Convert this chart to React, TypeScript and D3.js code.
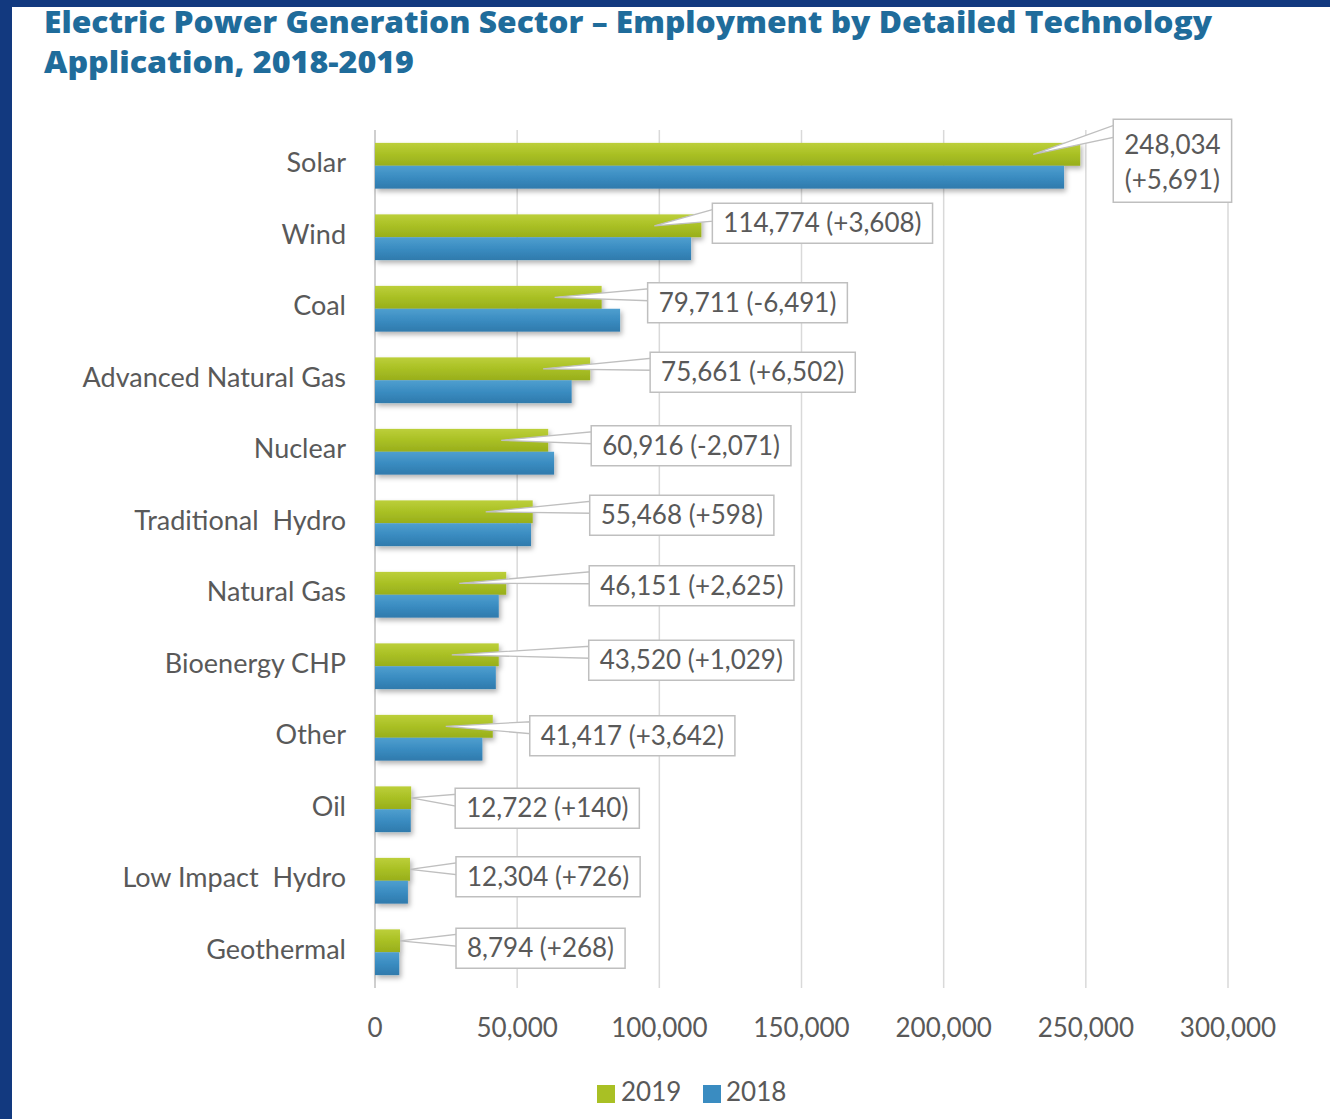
import React from "react";
import * as d3 from "d3";

const categories = [
  "Solar",
  "Wind",
  "Coal",
  "Advanced Natural Gas",
  "Nuclear",
  "Traditional  Hydro",
  "Natural Gas",
  "Bioenergy CHP",
  "Other",
  "Oil",
  "Low Impact  Hydro",
  "Geothermal",
];
const values2019 = [248034, 114774, 79711, 75661, 60916, 55468, 46151, 43520, 41417, 12722, 12304, 8794];
const changes = [5691, 3608, -6491, 6502, -2071, 598, 2625, 1029, 3642, 140, 726, 268];
const values2018 = values2019.map((v, i) => v - changes[i]);
const xTicks = [0, 50000, 100000, 150000, 200000, 250000, 300000];
const seriesNames = ["2019", "2018"];

// label layout tweaks (pixels): gap from 2019 bar end to callout box, and vertical shift
const labelGap = [33, 11, 46, 60, 43, 57, 83, 90, 37, 44, 46, 56];
const labelShift = [-5, -14, -6, -8, -6, -8, -9, -6, -2, -1, -4, -4];

const W = 1330;
const H = 1119;
const FONT = "Lato, 'Open Sans', sans-serif";
const GRAY = "#595959";

const fmt = d3.format(",");
const fmtChange = (c: number) => (c >= 0 ? "+" : "-") + fmt(Math.abs(c));

let ctx: CanvasRenderingContext2D | null = null;
function measure(text: string, font: string) {
  if (typeof document !== "undefined") {
    if (!ctx) ctx = document.createElement("canvas").getContext("2d");
    if (ctx) {
      ctx.font = font;
      return ctx.measureText(text).width;
    }
  }
  return text.length * 14;
}

export default function App() {
  const x = d3.scaleLinear().domain([0, 300000]).range([375, 1228]);
  const y = d3
    .scaleBand<string>()
    .domain(categories)
    .range([130, 988])
    .paddingInner(0.36)
    .paddingOuter(0.18);
  const y1 = d3.scaleBand<string>().domain(seriesNames).range([0, y.bandwidth()]);
  const bh = y1.bandwidth();
  const labelFont = `26px Lato`;

  return (
    <svg width={W} height={H} style={{ position: "absolute", left: 0, top: 0, background: "#fff" }}>
      <defs>
        <linearGradient id="gGreen" x1="0" y1="0" x2="0" y2="1">
          <stop offset="0" stopColor="#bccf3a" />
          <stop offset="0.5" stopColor="#a9c024" />
          <stop offset="1" stopColor="#98ae1c" />
        </linearGradient>
        <linearGradient id="gBlue" x1="0" y1="0" x2="0" y2="1">
          <stop offset="0" stopColor="#4f9fcf" />
          <stop offset="0.5" stopColor="#3a8cc1" />
          <stop offset="1" stopColor="#2f7aac" />
        </linearGradient>
        <filter id="shadow" x="-5%" y="-30%" width="115%" height="180%">
          <feDropShadow dx="2" dy="3" stdDeviation="2.5" floodColor="#000" floodOpacity="0.3" />
        </filter>
      </defs>
      <rect x={0} y={0} width={W} height={H} fill="#fff" />
      {/* frame */}
      <rect x={0} y={0} width={W} height={7} fill="#12397f" />
      <rect x={0} y={0} width={12} height={H} fill="#12397f" />

      {/* title */}
      <text x={44} y={33} fontFamily="'Open Sans', sans-serif" fontWeight={800} fontSize={30} fill="#1f6c9b"
        textLength={1168} lengthAdjust="spacingAndGlyphs">
        Electric Power Generation Sector – Employment by Detailed Technology
      </text>
      <text x={44} y={73} fontFamily="'Open Sans', sans-serif" fontWeight={800} fontSize={30} fill="#1f6c9b"
        textLength={370} lengthAdjust="spacingAndGlyphs">
        Application, 2018-2019
      </text>

      {/* grid */}
      {xTicks.map((t) => (
        <line key={t} x1={x(t)} x2={x(t)} y1={130} y2={988} stroke={t === 0 ? "#bfbfbf" : "#d9d9d9"} strokeWidth={1.5} />
      ))}
      {xTicks.map((t) => (
        <text key={"t" + t} x={x(t)} y={1037} textAnchor="middle" fontFamily={FONT} fontSize={26} fill={GRAY}>
          {fmt(t)}
        </text>
      ))}

      {/* category labels */}
      {categories.map((c) => (
        <text key={c} x={346} y={(y(c) as number) + y.bandwidth() / 2 + 4} dy="0.1em" textAnchor="end"
          fontFamily={FONT} fontSize={27} fill={GRAY} style={{ whiteSpace: "pre" }}>
          {c}
        </text>
      ))}

      {/* bars */}
      <g filter="url(#shadow)">
        {categories.map((c, i) => (
          <g key={c}>
            <rect x={x(0)} y={(y(c) as number) + (y1("2019") as number)} width={x(values2019[i]) - x(0)} height={bh} fill="url(#gGreen)" />
            <rect x={x(0)} y={(y(c) as number) + (y1("2018") as number)} width={x(values2018[i]) - x(0)} height={bh} fill="url(#gBlue)" />
          </g>
        ))}
      </g>

      {/* callouts */}
      {categories.map((c, i) => {
        const end = x(values2019[i]);
        const gy = (y(c) as number) + (y1("2019") as number) + bh / 2;
        const cy = (y(c) as number) + y.bandwidth() / 2 + labelShift[i];
        const twoLine = i === 0;
        const lines = twoLine
          ? [fmt(values2019[i]), `(${fmtChange(changes[i])})`]
          : [`${fmt(values2019[i])} (${fmtChange(changes[i])})`];
        const tw = Math.max(...lines.map((l) => measure(l, labelFont)));
        const bw = tw + 22;
        const bhh = twoLine ? 83 : 40;
        const bx = end + labelGap[i];
        const by = cy - bhh / 2;
        const ax = end - x(0) > 80 ? end - 47 : end;
        const wedge = [
          [ax, gy],
          [bx + 1, by + 6],
          [bx + 1, by + 18],
        ];
        return (
          <g key={"l" + c}>
            <polygon points={wedge.map((p) => p.join(",")).join(" ")} fill="#fff" stroke="#bfbfbf" strokeWidth={1.3} />
            <rect x={bx} y={by} width={bw} height={bhh} fill="#fff" stroke="#bfbfbf" strokeWidth={1.5} />
            {lines.map((l, k) => (
              <text key={k} x={bx + bw / 2} y={twoLine ? by + 35 + k * 35 : by + 29} textAnchor="middle"
                fontFamily={FONT} fontSize={26} fill={GRAY}>
                {l}
              </text>
            ))}
          </g>
        );
      })}

      {/* legend */}
      <rect x={597} y={1085} width={18} height={18} fill="#a9c024" />
      <text x={621} y={1101} fontFamily={FONT} fontSize={26} fill={GRAY}>2019</text>
      <rect x={703} y={1085} width={18} height={18} fill="#3a8cc1" />
      <text x={726} y={1101} fontFamily={FONT} fontSize={26} fill={GRAY}>2018</text>
    </svg>
  );
}
